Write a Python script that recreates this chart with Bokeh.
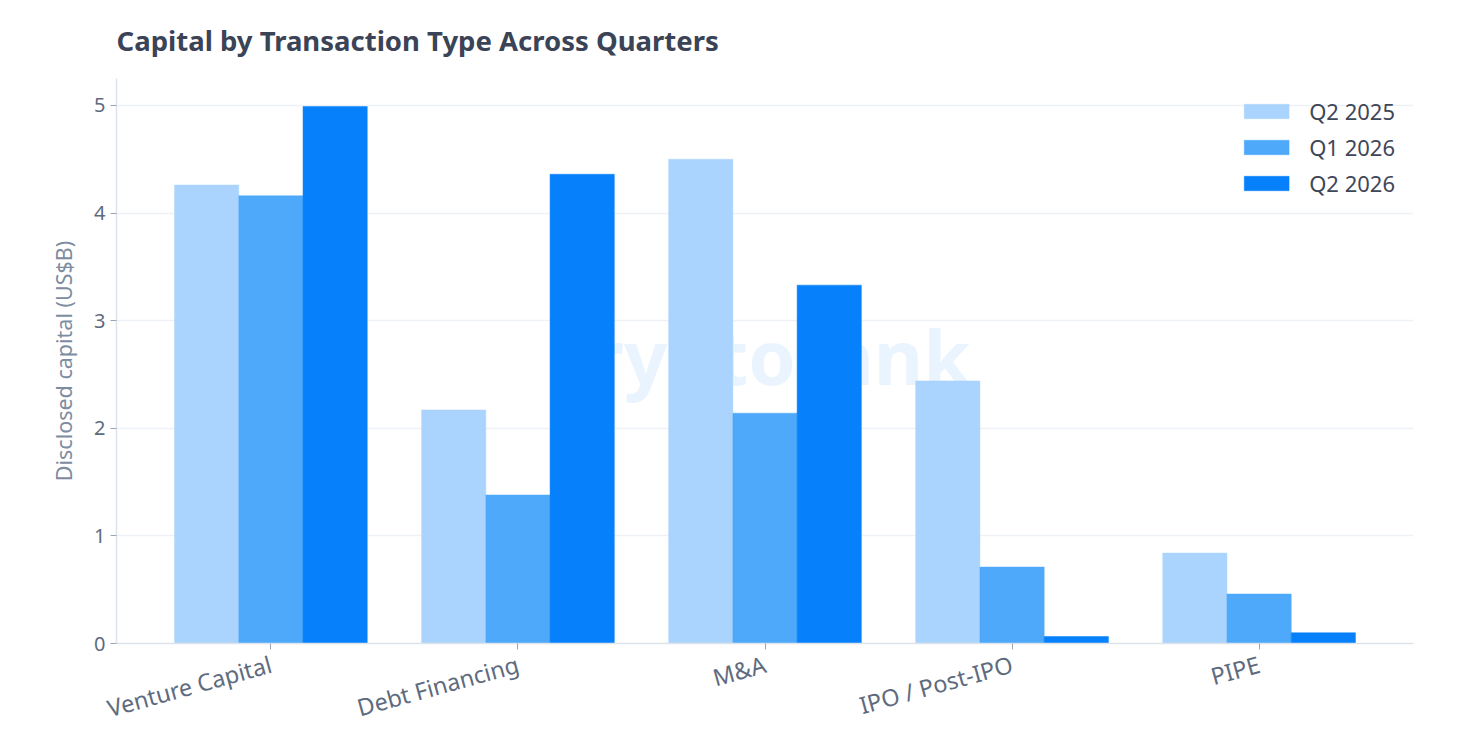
from bokeh.plotting import figure
from bokeh.models import FactorRange, FixedTicker, Label
from bokeh.transform import dodge
from bokeh.embed import file_html
from bokeh.resources import INLINE

# data (US$B)
categories = ["Venture Capital", "Debt Financing", "M&A", "IPO / Post-IPO", "PIPE"]
quarters = ["Q2 2025", "Q1 2026", "Q2 2026"]
q2_2025 = [4.26, 2.17, 4.50, 2.44, 0.84]
q1_2026 = [4.16, 1.38, 2.14, 0.71, 0.46]
q2_2026 = [4.99, 4.36, 3.33, 0.065, 0.10]
y_ticks = [0, 1, 2, 3, 4, 5]

colors = ["#aad4fd", "#4ea9fb", "#0780fb"]
FONT = "Noto Sans"

data = {"category": categories, "Q2 2025": q2_2025, "Q1 2026": q1_2026, "Q2 2026": q2_2026}

p = figure(
    x_range=FactorRange(*categories, range_padding=0.05),
    y_range=(0, 5.25),
    width=1460, height=745,
    title="Capital by Transaction Type Across Quarters",
    toolbar_location=None, tools="",
    output_backend="svg",
    min_border_left=116, min_border_right=47,
    min_border_top=78, min_border_bottom=102,
    outline_line_color=None,
)

# faint watermark behind the bars (screen units from frame's bottom-left)
p.add_layout(Label(x=644, y=288, x_units="screen", y_units="screen", text="cryptorank",
                   text_font=FONT, text_font_style="bold", text_font_size="76px",
                   text_color="#eaf4fe", text_align="center", text_baseline="middle",
                   level="underlay"))

offsets = [-0.26, 0, 0.26]
for q, c, off in zip(quarters, colors, offsets):
    p.vbar(x=dodge("category", off, range=p.x_range), top=q, width=0.26, source=data,
           fill_color=c, line_color=c, line_width=0.5, legend_label=q)

p.title.text_font = FONT
p.title.text_font_size = "27.5px"
p.title.text_font_style = "bold"
p.title.text_color = "#3b4356"
p.title.standoff = 39

p.xgrid.grid_line_color = None
p.ygrid.grid_line_color = "#eef1f5"
p.ygrid.grid_line_width = 1.5

p.yaxis.ticker = FixedTicker(ticks=y_ticks)
p.yaxis.axis_label = "Disclosed capital (US$B)"
p.yaxis.axis_label_text_font = FONT
p.yaxis.axis_label_text_font_size = "21.5px"
p.yaxis.axis_label_text_font_style = "normal"
p.yaxis.axis_label_text_color = "#7d8ca0"
p.yaxis.axis_label_standoff = 13

for ax in (p.xaxis, p.yaxis):
    ax.axis_line_color = "#dde3ea"
    ax.axis_line_width = 1.5
    ax.major_tick_line_color = "#9aa6b4"
    ax.major_tick_out = 6
    ax.major_tick_in = 0
    ax.minor_tick_line_color = None
    ax.major_label_text_font = FONT
    ax.major_label_text_color = "#5e6b7e"

p.yaxis.major_label_text_font_size = "20px"
p.xaxis.major_label_text_font_size = "23.5px"
p.xaxis.major_label_orientation = 0.27
p.xaxis.major_label_standoff = 14

p.legend.location = "top_right"
p.legend.border_line_color = None
p.legend.background_fill_alpha = 0
p.legend.label_text_font = FONT
p.legend.label_text_font_size = "22px"
p.legend.label_text_color = "#3f4658"
p.legend.glyph_width = 56
p.legend.glyph_height = 18
p.legend.spacing = 6
p.legend.label_standoff = 15
p.legend.margin = 18
p.legend.padding = 6

open("out.html", "w").write(file_html(p, INLINE))
